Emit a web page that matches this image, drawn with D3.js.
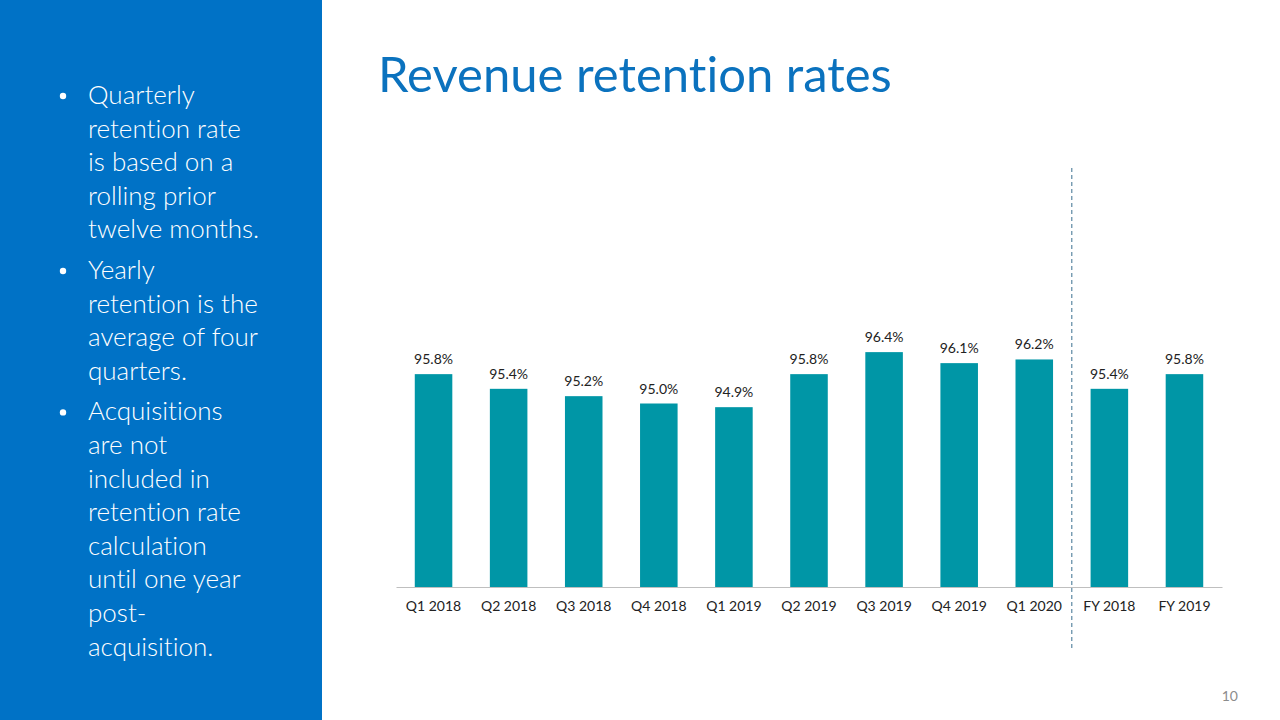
<!DOCTYPE html>
<html>
<head>
<meta charset="utf-8">
<script src="https://cdn.jsdelivr.net/npm/d3@7"></script>
<style>
  body { margin: 0; background: #fff; }
  svg { display: block; font-family: Lato, "Open Sans", sans-serif; font-variant-ligatures: none; }
</style>
</head>
<body>
<div id="chart"></div>
<script>
var width = 1280, height = 720;

let categories = ["Q1 2018", "Q2 2018", "Q3 2018", "Q4 2018", "Q1 2019", "Q2 2019",
                  "Q3 2019", "Q4 2019", "Q1 2020", "FY 2018", "FY 2019"],
    rates = [95.8, 95.4, 95.2, 95.0, 94.9, 95.8, 96.4, 96.1, 96.2, 95.4, 95.8];

let bullets = [
  ["Quarterly", "retention rate", "is based on a", "rolling prior", "twelve months."],
  ["Yearly", "retention is the", "average of four", "quarters."],
  ["Acquisitions", "are not", "included in", "retention rate", "calculation", "until one year", "post-", "acquisition."]
];

var svg = d3.select("#chart").append("svg")
    .attr("width", width)
    .attr("height", height);

// left side panel
svg.append("rect")
    .attr("x", 0).attr("y", 0)
    .attr("width", 322).attr("height", height)
    .attr("fill", "#0072C6");

var lineH = 33.6, y0 = 104;
var lineNo = 0;
bullets.forEach(function(b, bi) {
    var yb = y0 + lineNo * lineH + bi * 7;
    svg.append("circle")
        .attr("cx", 63).attr("cy", yb - 8)
        .attr("r", 3.2)
        .attr("fill", "#fff");
    b.forEach(function(t, i) {
        svg.append("text")
            .attr("x", 88)
            .attr("y", yb + i * lineH)
            .attr("fill", "#fff")
            .style("font-size", "26px")
            .style("font-weight", 300)
            .text(t);
    });
    lineNo += b.length;
});

// title
svg.append("text")
    .attr("x", 378).attr("y", 92)
    .attr("fill", "#0B72BE")
    .style("font-size", "49px")
    .text("Revenue retention rates");

var x = d3.scaleBand()
    .domain(categories)
    .range([396, 1222])
    .paddingInner(0.5)
    .paddingOuter(0.25);

var y = d3.scaleLinear()
    .domain([90, 100])
    .range([587, 220]);

svg.selectAll(".bar")
    .data(categories)
    .enter().append("rect")
        .attr("class", "bar")
        .attr("x", function(d) { return x(d); })
        .attr("y", function(d, i) { return y(rates[i]); })
        .attr("width", x.bandwidth())
        .attr("height", function(d, i) { return y(90) - y(rates[i]); })
        .attr("fill", "#0096A6");

svg.selectAll(".val")
    .data(categories)
    .enter().append("text")
        .attr("class", "val")
        .attr("x", function(d) { return x(d) + x.bandwidth() / 2; })
        .attr("y", function(d, i) { return y(rates[i]) - 10; })
        .attr("text-anchor", "middle")
        .attr("fill", "#222")
        .style("font-size", "14px")
        .text(function(d, i) { return rates[i].toFixed(1) + "%"; });

var axis = svg.append("g")
    .attr("transform", "translate(0," + y(90) + ")")
    .call(d3.axisBottom(x).tickSize(0).tickPadding(14));
axis.select(".domain").attr("stroke", "#bfbfbf").attr("stroke-width", 1);
axis.selectAll("text")
    .attr("fill", "#222")
    .style("font-size", "14px")
    .style("font-family", "Lato, sans-serif");

// separator between quarters and full years
var sepX = x(categories[9]) - x.step() * x.paddingInner() / 2;
svg.append("line")
    .attr("x1", sepX).attr("x2", sepX)
    .attr("y1", 168).attr("y2", 648)
    .attr("stroke", "#3b6f8f")
    .attr("stroke-width", 1)
    .attr("stroke-dasharray", "4,3");

svg.append("text")
    .attr("x", 1238).attr("y", 701)
    .attr("text-anchor", "end")
    .attr("fill", "#8c8c8c")
    .style("font-size", "14px")
    .text("10");
</script>
</body>
</html>
